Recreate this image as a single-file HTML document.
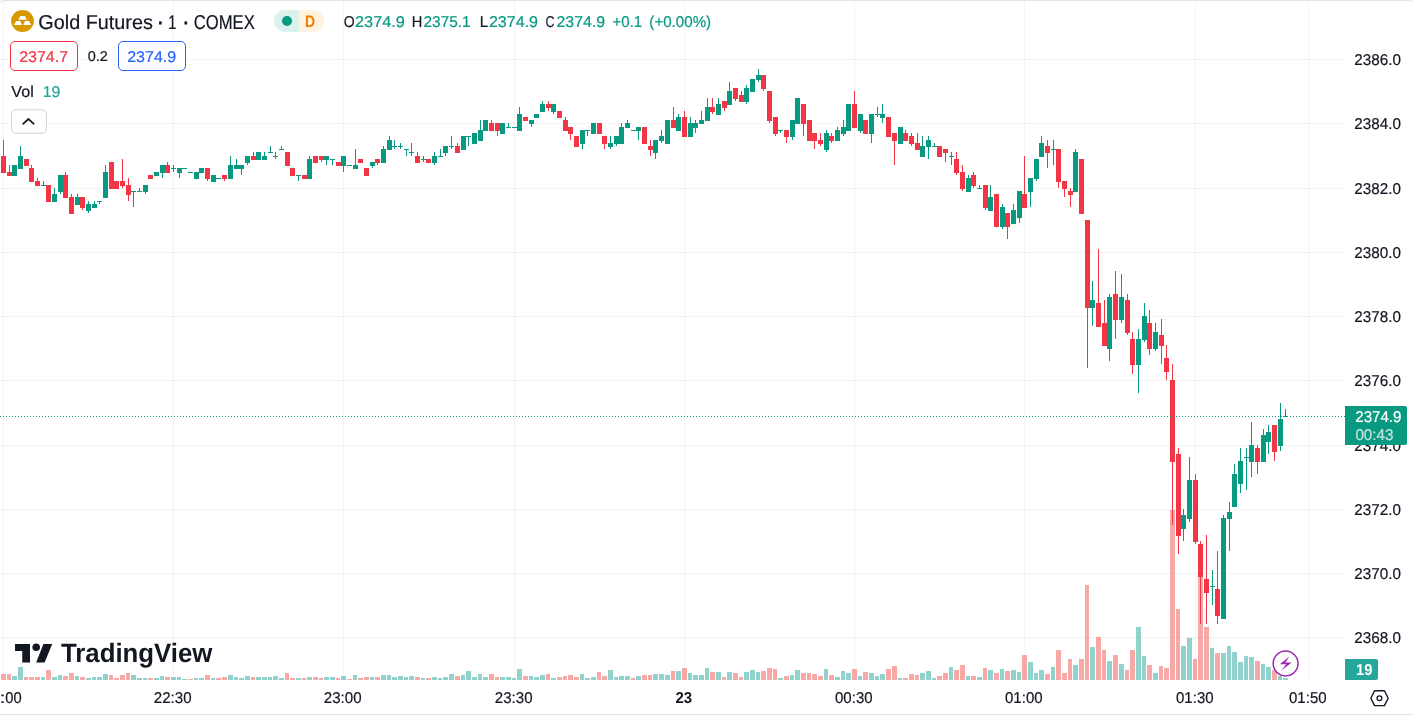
<!DOCTYPE html>
<html lang="en"><head><meta charset="utf-8"><title>Gold Futures chart</title>
<style>
html,body{margin:0;padding:0;background:#fff}
body{width:1413px;height:716px;overflow:hidden;position:relative;font-family:"Liberation Sans",sans-serif;color:#131722}
.chart{position:absolute;left:0;top:0}
.ui text{font-family:"Liberation Sans",sans-serif;white-space:pre;text-rendering:geometricPrecision}
.frame{position:absolute;left:-1px;top:0;width:1413px;height:713px;border:1px solid #e0e3eb;border-radius:4px 4px 0 0;box-sizing:content-box;pointer-events:none}
</style></head>
<body>

<svg class="chart" width="1413" height="716" viewBox="0 0 1413 716" shape-rendering="crispEdges">
<path d="M3.5 1V680M173.5 1V680M343.5 1V680M514.5 1V680M684.5 1V680M854.5 1V680M1024.5 1V680M1195.5 1V680M1308.5 1V680" stroke="#2a3a3c" stroke-opacity="0.055" stroke-width="1" fill="none"/>
<path d="M0 59.5H1345M0 123.5H1345M0 188.5H1345M0 252.5H1345M0 316.5H1345M0 380.5H1345M0 445.5H1345M0 509.5H1345M0 573.5H1345M0 637.5H1345" stroke="#2a3a3c" stroke-opacity="0.055" stroke-width="1" fill="none"/>
<path d="M12 676h5v4h-5zM18 667h5v13h-5zM41 677h4v3h-4zM52 677h5v3h-5zM58 675h4v5h-4zM75 676h4v4h-4zM86 678h5v2h-5zM92 677h4v3h-4zM97 677h5v3h-5zM103 674h5v6h-5zM131 675h5v5h-5zM137 678h5v2h-5zM143 678h4v2h-4zM154 678h5v2h-5zM160 676h4v4h-4zM171 677h5v3h-5zM177 677h4v3h-4zM182 679h5v1h-5zM194 678h4v2h-4zM199 678h5v2h-5zM211 678h4v2h-4zM228 675h5v5h-5zM234 677h4v3h-4zM239 678h5v2h-5zM245 676h5v4h-5zM256 677h5v3h-5zM262 677h5v3h-5zM268 677h4v3h-4zM273 676h5v4h-5zM279 678h5v2h-5zM296 678h5v2h-5zM307 677h5v3h-5zM324 677h5v3h-5zM330 677h5v3h-5zM341 676h5v4h-5zM353 675h4v5h-4zM370 677h4v3h-4zM381 675h5v5h-5zM387 675h4v5h-4zM392 677h5v3h-5zM398 676h5v4h-5zM404 677h4v3h-4zM409 676h5v4h-5zM421 678h4v2h-4zM432 677h5v3h-5zM438 678h4v2h-4zM443 677h5v3h-5zM449 674h5v6h-5zM461 675h4v5h-4zM466 671h5v9h-5zM472 677h5v3h-5zM478 674h4v6h-4zM483 677h5v3h-5zM500 677h5v3h-5zM506 677h5v3h-5zM512 678h4v2h-4zM517 669h5v11h-5zM529 676h4v4h-4zM534 677h5v3h-5zM540 675h5v5h-5zM551 678h5v2h-5zM580 674h4v6h-4zM585 678h5v2h-5zM591 677h5v3h-5zM608 670h5v10h-5zM614 677h4v3h-4zM619 676h5v4h-5zM625 676h5v4h-5zM636 676h5v4h-5zM653 674h5v6h-5zM659 674h5v6h-5zM665 675h5v5h-5zM676 671h5v9h-5zM688 673h4v7h-4zM693 675h5v5h-5zM699 675h5v5h-5zM705 668h4v12h-4zM716 672h5v8h-5zM727 672h5v8h-5zM744 672h5v8h-5zM750 670h5v10h-5zM756 672h4v8h-4zM778 678h5v2h-5zM790 675h4v5h-4zM795 670h5v10h-5zM824 669h4v11h-4zM835 677h5v3h-5zM841 671h4v9h-4zM846 673h5v7h-5zM858 676h4v4h-4zM869 673h5v7h-5zM875 676h4v4h-4zM880 674h5v6h-5zM898 678h4v2h-4zM920 673h5v7h-5zM926 671h5v9h-5zM932 678h4v2h-4zM949 667h4v13h-4zM966 676h4v4h-4zM977 677h5v3h-5zM988 670h5v10h-5zM1000 669h4v11h-4zM1011 670h5v10h-5zM1017 672h4v8h-4zM1028 662h5v18h-5zM1034 673h4v7h-4zM1039 670h5v10h-5zM1051 667h4v13h-4zM1073 665h5v15h-5zM1090 647h5v33h-5zM1107 661h5v19h-5zM1119 664h5v16h-5zM1136 627h5v53h-5zM1142 656h4v24h-4zM1153 673h5v7h-5zM1181 646h5v34h-5zM1187 638h5v42h-5zM1210 648h4v32h-4zM1221 653h5v27h-5zM1227 646h4v34h-4zM1232 652h5v28h-5zM1238 662h5v18h-5zM1244 656h4v24h-4zM1249 657h5v23h-5zM1261 664h4v16h-4zM1266 667h5v13h-5zM1278 676h4v4h-4zM1283 678h5v2h-5z" fill="#26a69a" fill-opacity="0.5"/>
<path d="M1 674h5v6h-5zM7 674h4v6h-4zM24 677h4v3h-4zM29 677h5v3h-5zM35 677h5v3h-5zM46 670h5v10h-5zM63 676h5v4h-5zM69 673h5v7h-5zM80 677h5v3h-5zM109 675h4v5h-4zM114 678h5v2h-5zM120 675h5v5h-5zM126 673h4v7h-4zM148 678h5v2h-5zM165 677h5v3h-5zM188 679h5v1h-5zM205 675h5v5h-5zM216 678h5v2h-5zM222 677h5v3h-5zM251 677h4v3h-4zM285 673h4v7h-4zM290 678h5v2h-5zM302 678h4v2h-4zM313 677h5v3h-5zM319 678h4v2h-4zM336 678h4v2h-4zM347 679h5v1h-5zM358 678h5v2h-5zM364 677h5v3h-5zM375 677h5v3h-5zM415 677h5v3h-5zM426 678h5v2h-5zM455 676h5v4h-5zM489 674h5v6h-5zM495 677h4v3h-4zM523 676h5v4h-5zM546 674h4v6h-4zM557 677h5v3h-5zM563 676h4v4h-4zM568 675h5v5h-5zM574 677h5v3h-5zM597 672h4v8h-4zM602 676h5v4h-5zM631 678h4v2h-4zM642 675h5v5h-5zM648 675h4v5h-4zM671 671h4v9h-4zM682 668h5v12h-5zM710 672h5v8h-5zM722 677h4v3h-4zM733 673h5v7h-5zM739 677h4v3h-4zM761 671h5v9h-5zM767 668h5v12h-5zM773 669h4v11h-4zM784 676h5v4h-5zM801 673h5v7h-5zM807 673h4v7h-4zM812 674h5v6h-5zM818 676h5v4h-5zM829 675h5v5h-5zM852 669h5v11h-5zM863 672h5v8h-5zM886 669h5v11h-5zM892 666h5v14h-5zM903 678h5v2h-5zM909 674h5v6h-5zM915 675h4v5h-4zM937 676h5v4h-5zM943 673h5v7h-5zM954 670h5v10h-5zM960 665h5v15h-5zM971 676h5v4h-5zM983 668h4v12h-4zM994 673h5v7h-5zM1005 671h5v9h-5zM1022 655h5v25h-5zM1045 674h5v6h-5zM1056 650h5v30h-5zM1062 673h5v7h-5zM1068 659h4v21h-4zM1079 659h5v21h-5zM1085 585h4v95h-4zM1096 637h5v43h-5zM1102 650h4v30h-4zM1113 655h5v25h-5zM1125 670h4v10h-4zM1130 650h5v30h-5zM1147 665h5v15h-5zM1159 666h4v14h-4zM1164 668h5v12h-5zM1170 510h5v170h-5zM1176 609h4v71h-4zM1193 659h4v21h-4zM1198 565h5v115h-5zM1204 627h5v53h-5zM1215 653h5v27h-5zM1255 661h5v19h-5zM1272 670h5v10h-5z" fill="#ef5350" fill-opacity="0.5"/>
<path d="M12 165h5v11h-5zM20 146h1v23h-1zM18 156h5v13h-5zM43 181h1v5h-1zM41 185h5v1h-5zM54 188h1v14h-1zM52 194h5v8h-5zM60 175h1v19h-1zM58 175h5v17h-5zM77 194h1v11h-1zM75 197h5v8h-5zM88 201h1v12h-1zM86 204h5v7h-5zM94 201h1v7h-1zM92 204h5v4h-5zM99 201h1v3h-1zM97 201h5v1h-5zM105 165h1v33h-1zM103 172h5v26h-5zM133 191h1v16h-1zM131 191h5v1h-5zM139 188h1v4h-1zM137 191h5v1h-5zM145 185h1v9h-1zM143 185h5v7h-5zM154 172h5v4h-5zM162 165h1v13h-1zM160 165h5v8h-5zM173 165h1v7h-1zM171 168h5v1h-5zM179 168h1v10h-1zM177 168h5v5h-5zM182 168h5v1h-5zM188 172h5v1h-5zM194 172h5v7h-5zM199 168h5v5h-5zM211 175h5v7h-5zM216 178h5v1h-5zM230 156h1v23h-1zM228 165h5v14h-5zM236 159h1v10h-1zM234 165h5v4h-5zM241 165h1v10h-1zM239 165h5v4h-5zM247 156h1v9h-1zM245 156h5v7h-5zM256 152h5v8h-5zM264 152h1v8h-1zM262 156h5v4h-5zM270 146h1v7h-1zM268 152h5v1h-5zM275 152h1v7h-1zM273 156h5v1h-5zM281 146h1v4h-1zM279 149h5v1h-5zM298 175h1v6h-1zM296 175h5v1h-5zM309 156h1v23h-1zM307 159h5v20h-5zM326 156h1v9h-1zM324 156h5v4h-5zM332 159h1v6h-1zM330 159h5v1h-5zM343 156h1v16h-1zM341 156h5v10h-5zM347 165h5v1h-5zM355 149h1v20h-1zM353 165h5v4h-5zM372 162h1v6h-1zM370 162h5v4h-5zM383 146h1v17h-1zM381 149h5v14h-5zM389 136h1v14h-1zM387 140h5v10h-5zM394 140h1v9h-1zM392 146h5v1h-5zM400 143h1v6h-1zM398 146h5v1h-5zM406 149h1v7h-1zM404 149h5v1h-5zM411 143h1v13h-1zM409 152h5v1h-5zM423 156h1v6h-1zM421 159h5v1h-5zM434 152h1v13h-1zM432 156h5v7h-5zM440 149h1v8h-1zM438 156h5v1h-5zM445 146h1v10h-1zM443 146h5v7h-5zM451 136h1v13h-1zM449 146h5v1h-5zM461 136h5v14h-5zM468 136h1v10h-1zM466 136h5v1h-5zM472 133h5v11h-5zM480 120h1v21h-1zM478 130h5v11h-5zM483 120h5v11h-5zM500 123h5v11h-5zM508 123h1v5h-1zM506 127h5v1h-5zM512 127h5v1h-5zM519 107h1v24h-1zM517 114h5v17h-5zM531 120h1v7h-1zM529 120h5v4h-5zM534 114h5v4h-5zM542 101h1v11h-1zM540 104h5v8h-5zM553 104h1v10h-1zM551 104h5v8h-5zM582 130h1v19h-1zM580 130h5v14h-5zM587 130h1v6h-1zM585 130h5v1h-5zM591 123h5v11h-5zM610 136h1v13h-1zM608 143h5v4h-5zM616 136h1v10h-1zM614 136h5v8h-5zM621 123h1v21h-1zM619 127h5v17h-5zM627 120h1v8h-1zM625 123h5v5h-5zM631 130h5v1h-5zM638 127h1v13h-1zM636 127h5v4h-5zM655 140h1v19h-1zM653 140h5v13h-5zM661 130h1v13h-1zM659 136h5v5h-5zM665 120h5v24h-5zM678 114h1v17h-1zM676 117h5v14h-5zM690 117h1v20h-1zM688 123h5v14h-5zM695 120h1v13h-1zM693 123h5v5h-5zM701 111h1v13h-1zM699 120h5v4h-5zM707 98h1v23h-1zM705 107h5v14h-5zM718 98h1v17h-1zM716 104h5v11h-5zM729 82h1v23h-1zM727 91h5v14h-5zM746 85h1v19h-1zM744 88h5v14h-5zM750 79h5v13h-5zM758 69h1v13h-1zM756 75h5v5h-5zM780 130h1v3h-1zM778 130h5v1h-5zM792 120h1v20h-1zM790 120h5v17h-5zM795 98h5v26h-5zM826 130h1v22h-1zM824 133h5v17h-5zM837 127h1v14h-1zM835 130h5v11h-5zM843 120h1v16h-1zM841 127h5v7h-5zM846 104h5v27h-5zM860 114h1v19h-1zM858 114h5v17h-5zM871 114h1v29h-1zM869 114h5v20h-5zM877 107h1v10h-1zM875 114h5v1h-5zM882 104h1v19h-1zM880 114h5v4h-5zM898 127h5v17h-5zM922 136h1v21h-1zM920 146h5v11h-5zM928 136h1v23h-1zM926 140h5v7h-5zM934 143h1v4h-1zM932 146h5v1h-5zM951 152h1v13h-1zM949 156h5v1h-5zM968 175h1v17h-1zM966 178h5v14h-5zM979 185h1v4h-1zM977 188h5v1h-5zM990 185h1v26h-1zM988 197h5v14h-5zM1002 204h1v25h-1zM1000 207h5v20h-5zM1013 204h1v20h-1zM1011 210h5v14h-5zM1019 191h1v32h-1zM1017 191h5v27h-5zM1030 178h1v29h-1zM1028 178h5v14h-5zM1036 159h1v22h-1zM1034 159h5v20h-5zM1041 136h1v21h-1zM1039 143h5v14h-5zM1053 140h1v25h-1zM1051 149h5v1h-5zM1075 149h1v43h-1zM1073 152h5v40h-5zM1092 281h1v45h-1zM1090 300h5v8h-5zM1109 294h1v67h-1zM1107 297h5v52h-5zM1121 274h1v49h-1zM1119 297h5v23h-5zM1138 329h1v64h-1zM1136 339h5v26h-5zM1144 303h1v39h-1zM1142 316h5v24h-5zM1155 323h1v28h-1zM1153 332h5v17h-5zM1183 509h1v32h-1zM1181 515h5v14h-5zM1189 457h1v65h-1zM1187 480h5v39h-5zM1212 570h1v35h-1zM1210 586h5v1h-5zM1223 515h1v104h-1zM1221 518h5v101h-5zM1229 502h1v49h-1zM1227 512h5v7h-5zM1234 464h1v43h-1zM1232 474h5v33h-5zM1240 448h1v45h-1zM1238 461h5v23h-5zM1246 448h1v42h-1zM1244 457h5v1h-5zM1251 422h1v55h-1zM1249 445h5v17h-5zM1263 429h1v33h-1zM1261 435h5v27h-5zM1268 425h1v29h-1zM1266 432h5v10h-5zM1280 403h1v48h-1zM1278 419h5v27h-5zM1285 409h1v8h-1zM1283 416h5v1h-5z" fill="#089981"/>
<path d="M3 140h1v33h-1zM1 156h5v17h-5zM9 165h1v11h-1zM7 172h5v4h-5zM24 159h5v7h-5zM31 165h1v17h-1zM29 168h5v14h-5zM37 178h1v8h-1zM35 181h5v5h-5zM46 185h5v17h-5zM65 172h1v26h-1zM63 175h5v23h-5zM71 194h1v20h-1zM69 197h5v17h-5zM82 197h1v13h-1zM80 197h5v11h-5zM109 162h5v27h-5zM114 181h5v8h-5zM122 159h1v29h-1zM120 181h5v5h-5zM128 178h1v23h-1zM126 185h5v10h-5zM148 175h5v4h-5zM167 162h1v11h-1zM165 165h5v8h-5zM207 168h1v13h-1zM205 168h5v11h-5zM224 175h1v6h-1zM222 175h5v4h-5zM253 152h1v8h-1zM251 156h5v4h-5zM285 152h5v14h-5zM290 168h5v8h-5zM302 175h5v4h-5zM313 156h5v7h-5zM321 156h1v6h-1zM319 156h5v4h-5zM336 162h5v4h-5zM358 159h5v4h-5zM364 168h5v8h-5zM377 159h1v6h-1zM375 159h5v4h-5zM417 152h1v11h-1zM415 156h5v7h-5zM426 159h5v4h-5zM457 143h1v10h-1zM455 146h5v7h-5zM491 120h1v11h-1zM489 123h5v8h-5zM497 123h1v13h-1zM495 123h5v8h-5zM523 117h5v4h-5zM548 101h1v10h-1zM546 104h5v4h-5zM557 111h5v7h-5zM565 117h1v14h-1zM563 120h5v11h-5zM570 127h1v13h-1zM568 127h5v7h-5zM574 136h5v11h-5zM597 123h5v11h-5zM604 136h1v13h-1zM602 136h5v8h-5zM642 127h5v17h-5zM650 140h1v16h-1zM648 146h5v4h-5zM673 107h1v21h-1zM671 120h5v8h-5zM684 111h1v26h-1zM682 117h5v20h-5zM712 98h1v16h-1zM710 107h5v5h-5zM724 101h1v10h-1zM722 101h5v7h-5zM735 88h1v13h-1zM733 88h5v11h-5zM741 91h1v11h-1zM739 95h5v7h-5zM763 75h1v16h-1zM761 75h5v14h-5zM769 91h1v32h-1zM767 91h5v30h-5zM775 117h1v19h-1zM773 117h5v17h-5zM786 130h1v13h-1zM784 130h5v7h-5zM803 104h1v32h-1zM801 104h5v20h-5zM807 120h5v21h-5zM814 133h1v16h-1zM812 133h5v8h-5zM820 133h1v13h-1zM818 140h5v4h-5zM831 133h1v10h-1zM829 136h5v5h-5zM854 91h1v37h-1zM852 104h5v24h-5zM863 120h5v14h-5zM886 117h5v20h-5zM894 133h1v32h-1zM892 133h5v8h-5zM905 130h1v11h-1zM903 133h5v8h-5zM911 133h1v13h-1zM909 136h5v8h-5zM917 133h1v17h-1zM915 143h5v7h-5zM937 146h5v11h-5zM945 149h1v13h-1zM943 149h5v4h-5zM956 152h1v23h-1zM954 159h5v14h-5zM962 165h1v26h-1zM960 172h5v17h-5zM973 172h1v16h-1zM971 175h5v11h-5zM985 185h1v25h-1zM983 185h5v23h-5zM994 194h5v33h-5zM1007 213h1v26h-1zM1005 213h5v14h-5zM1024 156h1v52h-1zM1022 194h5v14h-5zM1047 140h1v28h-1zM1045 146h5v7h-5zM1058 149h1v39h-1zM1056 149h5v33h-5zM1064 181h1v16h-1zM1062 181h5v8h-5zM1070 188h1v19h-1zM1068 191h5v4h-5zM1079 159h5v55h-5zM1087 220h1v148h-1zM1085 220h5v88h-5zM1098 249h1v78h-1zM1096 303h5v24h-5zM1104 300h1v46h-1zM1102 323h5v23h-5zM1115 271h1v68h-1zM1113 294h5v26h-5zM1127 294h1v41h-1zM1125 300h5v33h-5zM1132 332h1v42h-1zM1130 339h5v26h-5zM1149 310h1v45h-1zM1147 323h5v26h-5zM1161 319h1v45h-1zM1159 335h5v11h-5zM1166 345h1v35h-1zM1164 358h5v14h-5zM1172 364h1v161h-1zM1170 380h5v82h-5zM1178 448h1v106h-1zM1176 454h5v82h-5zM1195 474h1v70h-1zM1193 480h5v62h-5zM1200 541h1v83h-1zM1198 544h5v33h-5zM1206 535h1v89h-1zM1204 579h5v14h-5zM1217 551h1v73h-1zM1215 589h5v27h-5zM1257 445h1v29h-1zM1255 448h5v14h-5zM1274 425h1v36h-1zM1272 425h5v27h-5z" fill="#f23645"/>
<path d="M0 416.5H1345" stroke="#089981" stroke-width="1" stroke-dasharray="1 2" fill="none"/>
</svg>
<div class="frame"></div>
<svg class="chart ui" width="1413" height="716" viewBox="0 0 1413 716">
<rect x="10.5" y="41.5" width="67" height="29" rx="4.5" fill="#fff" stroke="#f23645"/>
<rect x="118.5" y="41.5" width="67" height="29" rx="4.5" fill="#fff" stroke="#2962ff"/>
<rect x="11.5" y="109.8" width="35" height="23.5" rx="4.5" fill="#fff" stroke="#d1d4dc"/>
<path d="M23.1 123.8l5.3-4.8 5.4 4.8" stroke="#131722" stroke-width="1.7" fill="none" stroke-linecap="round" stroke-linejoin="round"/>
<ellipse cx="22.5" cy="20.95" rx="11.4" ry="11.05" fill="#d69a00"/>
<path d="M20.45 16h4.4l1.95 3.75h-8.65zM16.25 21.1h4l1.85 3.85h-8.2zM25.05 21.1h4l2.05 3.85h-7.9z" fill="#fff"/>
<path d="M285 10h14v22h-14a11 11 0 0 1 0-22z" fill="#daf1ed"/>
<path d="M299 10h14a11 11 0 0 1 0 22h-14z" fill="#fff2df"/>
<circle cx="287" cy="21" r="5" fill="#089981"/>
<text x="38.31" y="29.00" font-size="20.0" fill="#131722" stroke="#131722" stroke-width="0.2" textLength="114.59" lengthAdjust="spacingAndGlyphs">Gold Futures</text>
<text x="155.98" y="30.00" font-size="26.0" fill="#131722" stroke="#131722" stroke-width="0.2" textLength="8.66" lengthAdjust="spacingAndGlyphs">·</text>
<text x="168.21" y="29.00" font-size="20.0" fill="#131722" stroke="#131722" stroke-width="0.2" textLength="8.10" lengthAdjust="spacingAndGlyphs">1</text>
<text x="181.48" y="30.00" font-size="26.0" fill="#131722" stroke="#131722" stroke-width="0.2" textLength="8.66" lengthAdjust="spacingAndGlyphs">·</text>
<text x="193.67" y="29.00" font-size="20.0" fill="#131722" stroke="#131722" stroke-width="0.2" textLength="61.10" lengthAdjust="spacingAndGlyphs">COMEX</text>
<text x="305.05" y="27.00" font-size="16.6" fill="#f57c00" font-weight="bold" textLength="10.14" lengthAdjust="spacingAndGlyphs">D</text>
<text x="343.83" y="27.00" font-size="15.76" fill="#131722" stroke="#131722" stroke-width="0.2" textLength="10.94" lengthAdjust="spacingAndGlyphs">O</text>
<text x="355.04" y="27.00" font-size="15.76" fill="#089981" stroke="#089981" stroke-width="0.2" textLength="49.82" lengthAdjust="spacingAndGlyphs">2374.9</text>
<text x="411.69" y="27.00" font-size="15.76" fill="#131722" stroke="#131722" stroke-width="0.2" textLength="10.56" lengthAdjust="spacingAndGlyphs">H</text>
<text x="423.53" y="27.00" font-size="15.76" fill="#089981" stroke="#089981" stroke-width="0.2" textLength="47.12" lengthAdjust="spacingAndGlyphs">2375.1</text>
<text x="479.85" y="27.00" font-size="15.76" fill="#131722" stroke="#131722" stroke-width="0.2" textLength="8.41" lengthAdjust="spacingAndGlyphs">L</text>
<text x="488.90" y="27.00" font-size="15.76" fill="#089981" stroke="#089981" stroke-width="0.2" textLength="49.15" lengthAdjust="spacingAndGlyphs">2374.9</text>
<text x="545.58" y="27.00" font-size="15.76" fill="#131722" stroke="#131722" stroke-width="0.2" textLength="8.98" lengthAdjust="spacingAndGlyphs">C</text>
<text x="556.51" y="27.00" font-size="15.76" fill="#089981" stroke="#089981" stroke-width="0.2" textLength="48.63" lengthAdjust="spacingAndGlyphs">2374.9</text>
<text x="612.59" y="27.00" font-size="15.76" fill="#089981" stroke="#089981" stroke-width="0.2" textLength="29.55" lengthAdjust="spacingAndGlyphs">+0.1</text>
<text x="649.36" y="27.00" font-size="15.76" fill="#089981" stroke="#089981" stroke-width="0.2" textLength="61.76" lengthAdjust="spacingAndGlyphs">(+0.00%)</text>
<text x="19.20" y="62.00" font-size="15.76" fill="#f23645" stroke="#f23645" stroke-width="0.2" textLength="48.88" lengthAdjust="spacingAndGlyphs">2374.7</text>
<text x="87.66" y="61.00" font-size="14.3" fill="#131722" stroke="#131722" stroke-width="0.2" textLength="20.13" lengthAdjust="spacingAndGlyphs">0.2</text>
<text x="127.20" y="62.00" font-size="15.76" fill="#2962ff" stroke="#2962ff" stroke-width="0.2" textLength="49.04" lengthAdjust="spacingAndGlyphs">2374.9</text>
<text x="11.32" y="97.00" font-size="16.0" fill="#131722" stroke="#131722" stroke-width="0.2" textLength="22.42" lengthAdjust="spacingAndGlyphs">Vol</text>
<text x="42.81" y="97.00" font-size="15.76" fill="#26a69a" stroke="#26a69a" stroke-width="0.2" textLength="17.58" lengthAdjust="spacingAndGlyphs">19</text>
<text x="1354.34" y="65.00" font-size="15.76" fill="#131722" stroke="#131722" stroke-width="0.2" textLength="46.65" lengthAdjust="spacingAndGlyphs">2386.0</text>
<text x="1354.34" y="129.00" font-size="15.76" fill="#131722" stroke="#131722" stroke-width="0.2" textLength="46.65" lengthAdjust="spacingAndGlyphs">2384.0</text>
<text x="1354.34" y="194.00" font-size="15.76" fill="#131722" stroke="#131722" stroke-width="0.2" textLength="46.65" lengthAdjust="spacingAndGlyphs">2382.0</text>
<text x="1354.34" y="258.00" font-size="15.76" fill="#131722" stroke="#131722" stroke-width="0.2" textLength="46.65" lengthAdjust="spacingAndGlyphs">2380.0</text>
<text x="1354.34" y="322.00" font-size="15.76" fill="#131722" stroke="#131722" stroke-width="0.2" textLength="46.65" lengthAdjust="spacingAndGlyphs">2378.0</text>
<text x="1354.34" y="386.00" font-size="15.76" fill="#131722" stroke="#131722" stroke-width="0.2" textLength="46.65" lengthAdjust="spacingAndGlyphs">2376.0</text>
<text x="1354.34" y="451.00" font-size="15.76" fill="#131722" stroke="#131722" stroke-width="0.2" textLength="46.65" lengthAdjust="spacingAndGlyphs">2374.0</text>
<text x="1354.34" y="515.00" font-size="15.76" fill="#131722" stroke="#131722" stroke-width="0.2" textLength="46.65" lengthAdjust="spacingAndGlyphs">2372.0</text>
<text x="1354.34" y="579.00" font-size="15.76" fill="#131722" stroke="#131722" stroke-width="0.2" textLength="46.65" lengthAdjust="spacingAndGlyphs">2370.0</text>
<text x="1354.34" y="643.00" font-size="15.76" fill="#131722" stroke="#131722" stroke-width="0.2" textLength="46.65" lengthAdjust="spacingAndGlyphs">2368.0</text>
<text x="153.85" y="703.00" font-size="15.76" fill="#131722" stroke="#131722" stroke-width="0.2" textLength="37.72" lengthAdjust="spacingAndGlyphs">22:30</text>
<text x="323.85" y="703.00" font-size="15.76" fill="#131722" stroke="#131722" stroke-width="0.2" textLength="37.72" lengthAdjust="spacingAndGlyphs">23:00</text>
<text x="494.85" y="703.00" font-size="15.76" fill="#131722" stroke="#131722" stroke-width="0.2" textLength="37.72" lengthAdjust="spacingAndGlyphs">23:30</text>
<text x="675.48" y="703.00" font-size="15.76" fill="#131722" font-weight="bold" textLength="16.69" lengthAdjust="spacingAndGlyphs">23</text>
<text x="835.04" y="703.00" font-size="15.76" fill="#131722" stroke="#131722" stroke-width="0.2" textLength="37.53" lengthAdjust="spacingAndGlyphs">00:30</text>
<text x="1005.04" y="703.00" font-size="15.76" fill="#131722" stroke="#131722" stroke-width="0.2" textLength="37.53" lengthAdjust="spacingAndGlyphs">01:00</text>
<text x="1176.04" y="703.00" font-size="15.76" fill="#131722" stroke="#131722" stroke-width="0.2" textLength="37.53" lengthAdjust="spacingAndGlyphs">01:30</text>
<text x="1289.04" y="703.00" font-size="15.76" fill="#131722" stroke="#131722" stroke-width="0.2" textLength="37.53" lengthAdjust="spacingAndGlyphs">01:50</text>
<text x="-0.44" y="703.00" font-size="15.76" fill="#131722" stroke="#131722" stroke-width="0.2" textLength="5.98" lengthAdjust="spacingAndGlyphs">:</text>
<text x="5.35" y="703.00" font-size="15.76" fill="#131722" stroke="#131722" stroke-width="0.2" textLength="16.44" lengthAdjust="spacingAndGlyphs">00</text>
<path d="M1345 406h60a2 2 0 0 1 2 2v35a2 2 0 0 1 -2 2h-60z" fill="#089981"/>
<text x="1355.24" y="422.00" font-size="15.76" fill="#fff" stroke="#fff" stroke-width="0.2" textLength="46.25" lengthAdjust="spacingAndGlyphs">2374.9</text>
<text x="1355.43" y="440.00" font-size="15.76" fill="#fff" stroke="#fff" stroke-width="0.2" textLength="38.02" lengthAdjust="spacingAndGlyphs" opacity="0.75">00:43</text>
<path d="M1345 659h31a2 2 0 0 1 2 2v17a2 2 0 0 1 -2 2h-31z" fill="#26a69a"/>
<text x="1356.08" y="675.00" font-size="15.76" fill="#fff" font-weight="bold" textLength="16.37" lengthAdjust="spacingAndGlyphs">19</text>
<circle cx="1285.6" cy="663.5" r="12.4" fill="#fff" stroke="#9c27b0" stroke-width="1.5"/>
<path d="M1289.4 656.5L1279.8 664.3H1286.2L1281.4 670.5L1291.6 662.6H1285.3Z" fill="#9c27b0"/>
<path d="M1374.6 690.7H1384.4L1388.2 698.2L1384.4 705.6H1374.6L1370.8 698.2Z" fill="none" stroke="#131722" stroke-width="1.4" stroke-linejoin="round"/>
<circle cx="1379.45" cy="698.2" r="2.4" fill="none" stroke="#131722" stroke-width="1.3"/>
<path d="M15 643.9h15v18.5h-7.75v-11.4h-7.25z" fill="#131722"/>
<circle cx="36.2" cy="647.2" r="3.8" fill="#131722"/>
<path d="M43.4 643.9h8.8l-7.6 18.5h-8.4z" fill="#131722"/>
<text x="60.94" y="662.00" font-size="26.6" fill="#131722" font-weight="bold" textLength="151.49" lengthAdjust="spacingAndGlyphs">TradingView</text>
</svg>
</body></html>
